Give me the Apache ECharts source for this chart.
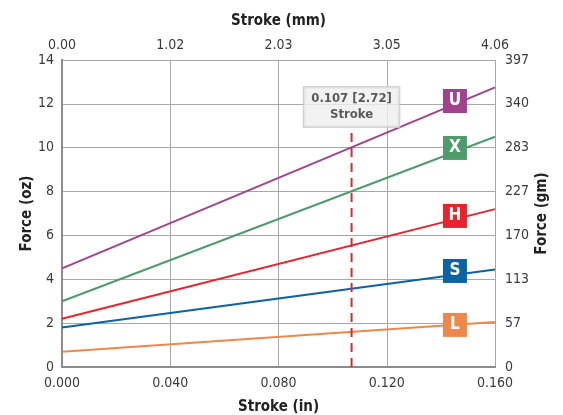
<!DOCTYPE html>
<html><head><meta charset="utf-8">
<script src="https://cdn.jsdelivr.net/npm/echarts@6/dist/echarts.min.js"></script>
<style>html,body{margin:0;padding:0;background:#fff}#c{width:563px;height:415px}</style>
</head><body><div id="c"></div>
<script>
const strokeIn = [0, 0.16];
const seriesNames = ['U', 'X', 'H', 'S', 'L'];
const seriesColors = ['#A3428C', '#4E9C6C', '#E8232B', '#0A63A4', '#F0874A'];
const startOz = [4.5, 3.0, 2.2, 1.8, 0.7];
const endOz = [12.75, 10.5, 7.2, 4.45, 2.05];
const badgeX = 0.1452;
const badgeOz = [12.13, 9.99, 6.89, 4.38, 1.92];
const markerIn = 0.107;
const markerTopOz = 10.95;
const boxOz = 11.86;
const boxText = ['0.107 [2.72]', 'Stroke'];
const inTickLabels = ['0.000', '0.040', '0.080', '0.120', '0.160'];
const mmTickLabels = ['0.00', '1.02', '2.03', '3.05', '4.06'];
const gmTickLabels = ['0', '57', '113', '170', '227', '283', '340', '397'];
const FONT = '"DejaVu Sans Condensed","Liberation Sans Narrow","Roboto",sans-serif';

const series = [];
seriesNames.forEach((n, i) => {
  series.push({
    type: 'line', name: n, showSymbol: false, silent: true,
    data: [[strokeIn[0], startOz[i]], [strokeIn[1], endOz[i]]],
    lineStyle: { color: seriesColors[i], width: 2 }, z: 3
  });
});
series.push({
  type: 'line', showSymbol: false, silent: true,
  data: [[markerIn, 0], [markerIn, markerTopOz]],
  lineStyle: { color: '#E8232B', width: 2, type: [9, 6] }, z: 4
});
series.push({
  type: 'scatter', symbol: 'rect', symbolSize: 24, silent: true, z: 6,
  itemStyle: { opacity: 1 },
  data: seriesNames.map((n, i) => ({ value: [badgeX, badgeOz[i]], name: n, itemStyle: { color: seriesColors[i], opacity: 1 } })),
  label: { show: true, position: 'inside', formatter: p => p.name, color: '#fff', fontFamily: FONT, fontWeight: 'bold', fontSize: 17 }
});
series.push({
  type: 'scatter', symbolSize: 0, silent: true, z: 7,
  data: [[markerIn, boxOz]],
  label: {
    show: true, position: 'inside', formatter: boxText.join('\n'),
    color: '#333', fontFamily: FONT, fontWeight: 'bold', fontSize: 13, lineHeight: 16,
    backgroundColor: '#EFEFEF', borderColor: '#C8C8C8', borderWidth: 1.5, padding: [4, 7, 3, 7], align: 'center'
  }
});

const idx = (v, step) => Math.round(v / step);
const axLabel = { color: '#3a3a3a', fontFamily: FONT, fontSize: 14 };
const axLine = { show: true, lineStyle: { color: '#8C8C8C', width: 2 } };
const split = { show: true, lineStyle: { color: '#A8A8A8', width: 1 } };
const nameStyle = { color: '#222', fontFamily: FONT, fontWeight: 'bold', fontSize: 15 };

const chart = echarts.init(document.getElementById('c'));
chart.setOption({
  animation: false,
  grid: { left: 62, right: 68, top: 60, bottom: 48, containLabel: false, outerBoundsMode: 'none' },
  xAxis: [
    { type: 'value', min: 0, max: 0.16, interval: 0.04, position: 'bottom',
      name: 'Stroke (in)', nameLocation: 'middle', nameGap: 33, nameTextStyle: nameStyle,
      axisLine: axLine, axisTick: { show: false }, splitLine: split,
      axisLabel: Object.assign({}, axLabel, { margin: 9, formatter: v => inTickLabels[idx(v, 0.04)] }) },
    { type: 'value', min: 0, max: 0.16, interval: 0.04, position: 'top',
      name: 'Stroke (mm)', nameLocation: 'middle', nameGap: 31, nameTextStyle: nameStyle,
      axisLine: axLine, axisTick: { show: false }, splitLine: { show: false },
      axisLabel: Object.assign({}, axLabel, { margin: 8, formatter: v => mmTickLabels[idx(v, 0.04)] }) }
  ],
  yAxis: [
    { type: 'value', min: 0, max: 14, interval: 2, position: 'left',
      name: 'Force (oz)', nameLocation: 'middle', nameGap: 27, nameMoveOverlap: false, nameTextStyle: nameStyle,
      axisLine: axLine, axisTick: { show: false }, splitLine: split,
      axisLabel: Object.assign({}, axLabel, { margin: 8 }) },
    { type: 'value', min: 0, max: 14, interval: 2, position: 'right',
      name: 'Force (gm)', nameLocation: 'middle', nameGap: 40, nameMoveOverlap: false, nameTextStyle: nameStyle,
      axisLine: axLine, axisTick: { show: false }, splitLine: { show: false },
      axisLabel: Object.assign({}, axLabel, { margin: 10, formatter: v => gmTickLabels[idx(v, 2)] }) }
  ],
  series: series
});
</script></body></html>
